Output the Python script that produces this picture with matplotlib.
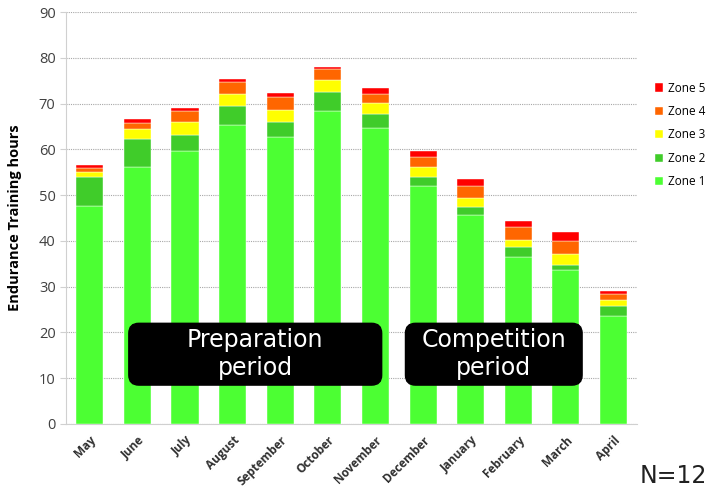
import numpy as np
import matplotlib
matplotlib.use("Agg")
import matplotlib.pyplot as plt
from matplotlib.patches import FancyBboxPatch

months = ["May", "June", "July", "August", "September", "October",
          "November", "December", "January", "February", "March", "April"]

# hours per intensity zone, stacked bottom to top
zone1 = [47.7, 56.2, 59.6, 65.3, 62.8, 68.5, 64.7, 52.0, 45.7, 36.5, 33.6, 23.7]
zone2 = [6.3, 6.0, 3.6, 4.1, 3.2, 4.0, 3.1, 2.0, 1.8, 2.2, 1.2, 2.1]
zone3 = [1.1, 2.3, 2.9, 2.7, 2.7, 2.7, 2.3, 2.1, 1.8, 1.6, 2.4, 1.4]
zone4 = [0.9, 1.3, 2.2, 2.6, 2.7, 2.4, 2.1, 2.2, 2.7, 2.8, 2.8, 1.3]
zone5 = [0.5, 0.8, 0.7, 0.8, 0.9, 0.5, 1.3, 1.3, 1.6, 1.2, 1.9, 0.6]

zones = [zone1, zone2, zone3, zone4, zone5]
zone_names = ["Zone 1", "Zone 2", "Zone 3", "Zone 4", "Zone 5"]
zone_colors = ["#4cff33", "#40cc2a", "#ffff00", "#ff6600", "#ff0000"]

fig = plt.figure(figsize=(7.08, 4.87), dpi=100)
ax = fig.add_axes([0.0932, 0.1294, 0.807, 0.8456])

x = np.arange(len(months))
bottom = np.zeros(len(months))
handles = []
for vals, name, col in zip(zones, zone_names, zone_colors):
    b = ax.bar(x, vals, width=0.57, bottom=bottom, color=col, label=name,
               edgecolor="white", linewidth=0.3, zorder=3)
    handles.append(b)
    bottom += np.array(vals)

ax.set_xlim(-0.5, len(months) - 0.5)
ax.set_ylim(0, 90)
ax.set_yticks(np.arange(0, 91, 10))
ax.yaxis.grid(True, linestyle=(0, (1, 1)), color="#a8a8a8", linewidth=0.8, zorder=0)
ax.set_axisbelow(True)

for s in ["top", "right"]:
    ax.spines[s].set_visible(False)
ax.spines["left"].set_color("#d0d0d0")
ax.spines["bottom"].set_color("#d0d0d0")
ax.tick_params(axis="y", colors="#d0d0d0", labelcolor="#404040", labelsize=10.5, length=4)
ax.tick_params(axis="x", length=0, pad=7)

ax.set_xticks(x)
ax.set_xticklabels(months, rotation=45, ha="right", rotation_mode="anchor",
                   fontsize=8.5, fontweight="bold", color="#303030",
                   family="Open Sans")
for lab in ax.get_yticklabels():
    lab.set_family("Open Sans")

ax.set_ylabel("Endurance Training hours", fontsize=10.5, fontweight="bold",
              family="Open Sans", labelpad=12)

leg = ax.legend(handles[::-1], zone_names[::-1], loc="center left",
                bbox_to_anchor=(1.012, 0.702), frameon=False,
                handlelength=0.7, handleheight=0.7, handletextpad=0.4,
                labelspacing=0.88, prop={"family": "Open Sans", "size": 8.5})

# period labels in black rounded boxes
def period_box(x0, x1, text):
    y0, y1 = 8.5, 22.0
    box = FancyBboxPatch((x0, y0), x1 - x0, y1 - y0,
                         boxstyle="round,pad=0,rounding_size=0.21",
                         mutation_aspect=10.4,
                         facecolor="black", edgecolor="black", zorder=5)
    ax.add_patch(box)
    ax.text((x0 + x1) / 2, (y0 + y1) / 2, text, ha="center", va="center",
            color="white", fontsize=17, linespacing=1.2, zorder=6,
            family="DejaVu Sans")

period_box(0.82, 6.13, "Preparation\nperiod")
period_box(6.63, 10.34, "Competition\nperiod")

fig.text(0.904, 0.008, "N=12", fontsize=17, color="#202020",
         family="DejaVu Sans", va="baseline")

fig.savefig("out.png", dpi=100)
